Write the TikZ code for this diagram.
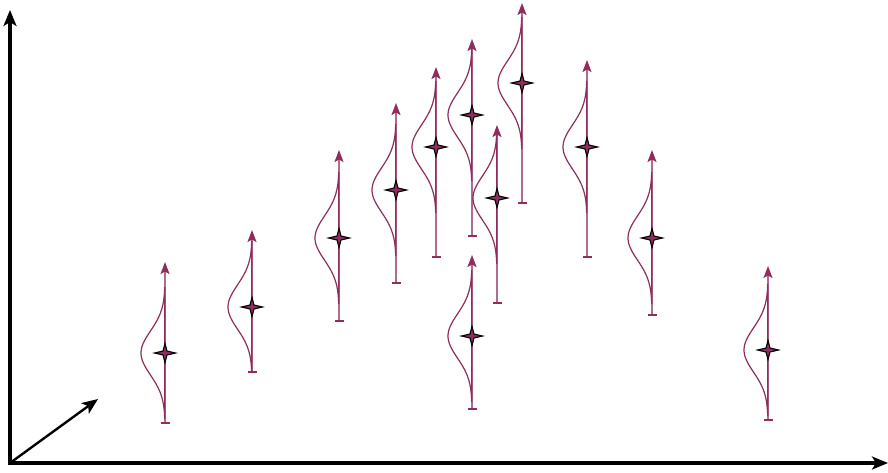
\documentclass[tikz,border=0pt]{standalone}
\usetikzlibrary{arrows.meta}
\definecolor{purp}{HTML}{8E2D5E}
\tikzset{
  errline/.style={purp!70, line width=1.5pt, -{Stealth[length=12pt,width=9pt,inset=2.5pt,color=purp]}},
  gausscurve/.style={purp, line width=1.2pt},
  tickbar/.style={purp, line width=2pt},
  starmark/.style={fill=purp, draw=black, line width=1.1pt, line join=miter},
  axisline/.style={black, line width=3.4pt, line join=miter}
}
\newcommand\gaussbar[4]{%
  \draw[errline] (#1,#2) -- (#1,#3);
  \draw[gausscurve] plot[domain=-3:3, samples=70, variable=\t] ({#1 - 24*exp(-\t*\t/2)}, {#4 + 22*\t}) -- cycle;
  \draw[tickbar] (#1-4.5,#2) -- (#1+4.5,#2);
  \begin{scope}[shift={(#1,#4)}]
    \filldraw[starmark] (10.5,0) -- (2,2) -- (0,9.5) -- (-2,2) -- (-10.5,0) -- (-2,-2) -- (0,-9.5) -- (2,-2) -- cycle;
  \end{scope}
}
\begin{document}
\begin{tikzpicture}[x=1pt, y=-1pt]
\useasboundingbox (0,0) rectangle (888,472);
\coordinate (O) at (10,463);
\coordinate (ytop) at (10,10);
\coordinate (xend) at (888,463);
\coordinate (zend) at (98,399);
\draw[axisline, {Stealth[length=16pt,width=13pt,inset=4pt]}-{Stealth[length=16pt,width=13pt,inset=4pt]}] (ytop) -- (O) -- (xend);
\draw[black, line width=2.4pt, -{Stealth[length=16pt,width=13pt,inset=4pt]}] (O) -- (zend);
\gaussbar{165}{423}{262}{353}
\gaussbar{252}{372}{230}{307}
\gaussbar{339}{321}{150}{238}
\gaussbar{396}{283}{103}{190}
\gaussbar{436}{257}{67}{147}
\gaussbar{472}{236}{39}{115}
\gaussbar{522}{203}{3}{83}
\gaussbar{497}{303}{125}{198}
\gaussbar{472}{409}{255}{336}
\gaussbar{587}{257}{60}{147}
\gaussbar{652}{315}{150}{238}
\gaussbar{768}{420}{266}{350}
\end{tikzpicture}
\end{document}
